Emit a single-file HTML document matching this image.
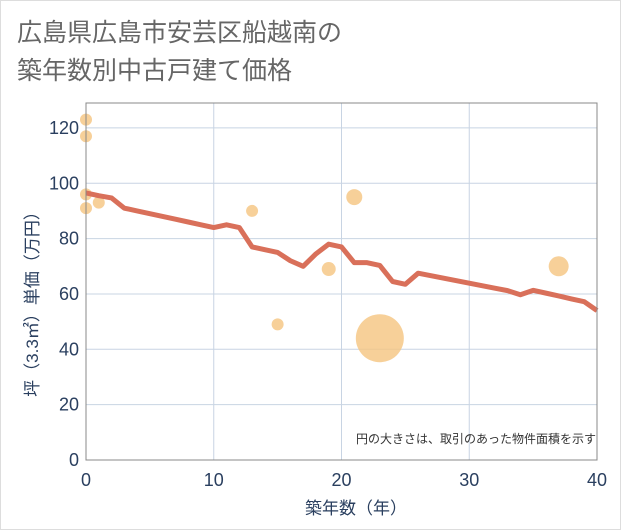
<!DOCTYPE html>
<html><head><meta charset="utf-8"><style>
body{margin:0;background:#fff;}
#c{position:relative;width:621px;height:530px;border:1px solid #ddd;box-sizing:border-box;font-family:"Liberation Sans","Noto Sans CJK JP",sans-serif;}
</style></head><body>
<div id="c">
<svg width="621" height="530" id="svg" style="position:absolute;left:-1px;top:-1px">
<text x="17" y="41" font-size="25" fill="#666" font-family="Liberation Sans,Noto Sans CJK JP,sans-serif">広島県広島市安芸区船越南の</text>
<text x="17" y="79" font-size="25" fill="#666" font-family="Liberation Sans,Noto Sans CJK JP,sans-serif">築年数別中古戸建て価格</text>
<g id="grid"></g><g id="marks"></g><g id="axes"></g>
<text x="596" y="443" font-size="12" fill="#333" text-anchor="end" font-family="Liberation Sans,Noto Sans CJK JP,sans-serif">円の大きさは、取引のあった物件面積を示す</text>
<text x="356" y="514" font-size="17" fill="#2a3f5f" text-anchor="middle" font-family="Liberation Sans,Noto Sans CJK JP,sans-serif">築年数（年）</text>
<text transform="translate(38,300) rotate(-90)" font-size="17" fill="#2a3f5f" text-anchor="middle" font-family="Liberation Sans,Noto Sans CJK JP,sans-serif">坪（3.3㎡）単価（万円）</text>
</svg></div>
<script>
const xTicks=[0,10,20,30,40];
const yTicks=[0,20,40,60,80,100,120];
const lineYears=[0,1,2,3,4,5,6,7,8,9,10,11,12,13,14,15,16,17,18,19,20,21,22,23,24,25,26,27,28,29,30,31,32,33,34,35,36,37,38,39,40];
const lineValues=[96.5,95.5,94.7,91,90,89,88,87,86,85,84,85,84,77,76,75,72,70,74.5,78,77,71.3,71.3,70.3,64.5,63.5,67.5,66.6,65.7,64.8,63.9,63,62.1,61.2,59.7,61.3,60.3,59.3,58.2,57.2,54];
const dotYears=[0,0,0,0,1,13,15,19,21,23,37];
const dotValues=[123,117,96,91,93,90,49,69,95,44,70];
const dotRadius=[6,6,6,6,6,6,6,7,8,24,10];
const L=86,R=597,T=103,B=460,ymax=129;
const xs=v=>L+(R-L)*v/40, ys=v=>B-(B-T)*v/ymax;
const NS="http://www.w3.org/2000/svg";
function mk(t,a,p){const e=document.createElementNS(NS,t);for(const k in a)e.setAttribute(k,a[k]);p.appendChild(e);return e;}
const g=document.getElementById('grid'),m=document.getElementById('marks'),ax=document.getElementById('axes');
xTicks.forEach(t=>{const l=mk('line',{x1:xs(t),x2:xs(t),y1:T,y2:B,stroke:'#c8d4e3'},g);


const tx=mk('text',{x:xs(t),y:B+26,'font-size':18,fill:'#2a3f5f','text-anchor':'middle'},ax);tx.textContent=t;

});
yTicks.forEach(t=>{const l=mk('line',{x1:L,x2:R,y1:ys(t),y2:ys(t),stroke:'#c8d4e3'},g);


const tx=mk('text',{x:L-7,y:ys(t)+6,'font-size':18,fill:'#2a3f5f','text-anchor':'end'},ax);tx.textContent=t;

});
const fr=mk('rect',{x:L,y:T,width:R-L,height:B-T,fill:'none',stroke:'#888'},ax);


dotYears.forEach((y,i)=>{const c=mk('circle',{cx:xs(y),cy:ys(dotValues[i]),r:dotRadius[i],fill:'#f5c47f','fill-opacity':0.8},m);

});
const p=mk('polyline',{points:lineYears.map((y,i)=>xs(y)+','+ys(lineValues[i])).join(' '),fill:'none',stroke:'#d9705a','stroke-width':5,'stroke-linejoin':'round'},m);


</script></body></html>
